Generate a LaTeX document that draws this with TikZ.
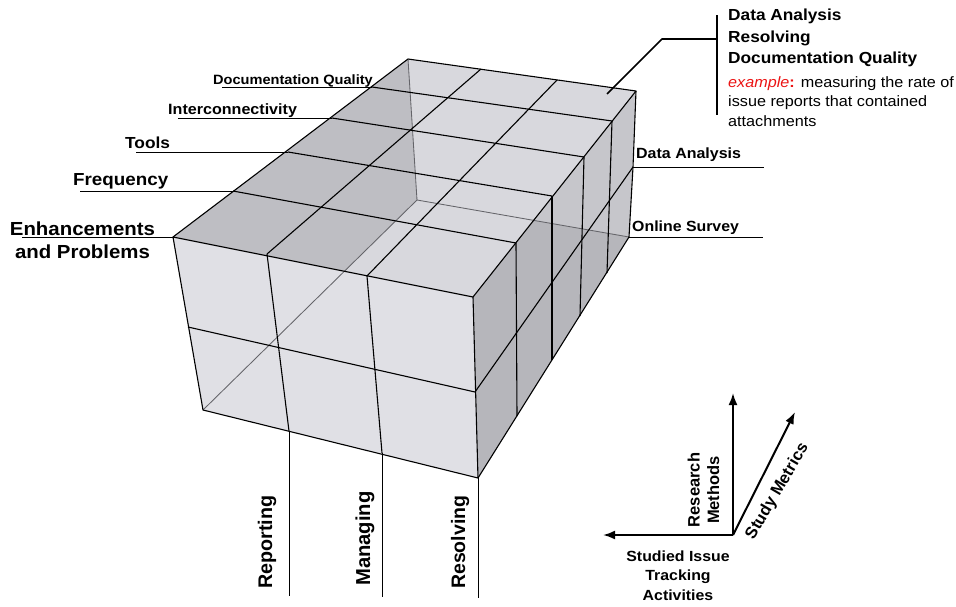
\documentclass[tikz,border=0pt]{standalone}
\usepackage{fontspec}
\setmainfont{Liberation Sans}[FakeStretch=1.08]
\newfontfamily\rotfont{Liberation Sans}
\usetikzlibrary{arrows.meta}

\definecolor{frontc}{RGB}{224,224,229}
\definecolor{topc}{RGB}{216,216,221}
\definecolor{topdark}{RGB}{190,190,195}
\definecolor{sidec}{RGB}{182,182,187}
\definecolor{sidelight}{RGB}{198,198,203}
\definecolor{hidc}{RGB}{100,100,105}
\definecolor{exred}{RGB}{235,20,20}

\newcommand\fsz[1]{\fontsize{#1}{#1}\selectfont}

\begin{document}
\begin{tikzpicture}[x=1pt,y=-1pt,
  edge/.style={black, line width=1.1pt, line join=round},
  hidden/.style={hidc, line width=0.85pt},
  leader/.style={black, line width=1pt},
  lbl/.style={inner sep=0pt, font=\bfseries},
  txt/.style={inner sep=0pt},
  axis/.style={black, line width=2pt, -{Latex[length=12pt,width=9pt]}}]

\useasboundingbox (0,0) rectangle (956,606);

% box corners
\coordinate (FLT) at (173,237);
\coordinate (FRT) at (473,297);
\coordinate (FRB) at (478,478);
\coordinate (FLB) at (203,410);
\coordinate (BLT) at (408,59);
\coordinate (BRT) at (636,91);
\coordinate (BRB) at (629,237);
\coordinate (BLB) at (417,200);
\coordinate (BRM) at (633,167);
\coordinate (FRM) at (475,392);
\coordinate (FLM) at (188,327);

% front face column points
\coordinate (FT1) at (267,254);
\coordinate (FT2) at (367,276);
\coordinate (FB1) at (289,431);
\coordinate (FB2) at (382,453);

% top face row points (left edge / right edge)
\coordinate (L1) at (233,191);
\coordinate (L2) at (288,152);
\coordinate (L3) at (332,118);
\coordinate (L4) at (372,87);
\coordinate (R1) at (516,243);
\coordinate (R2) at (552,196);
\coordinate (R3) at (584,157);
\coordinate (R4) at (612,121);
\coordinate (BT1) at (481,69);
\coordinate (BT2) at (557,80);

% right face bottom points
\coordinate (S1) at (517,416);
\coordinate (S2) at (552,360);
\coordinate (S3) at (580,316);
\coordinate (S4) at (607,273);

% ---- face fills ----
\fill[topc] (FLT) -- (FRT) -- (BRT) -- (BLT) -- cycle;
\begin{scope}
  \clip (FLT) -- (FRT) -- (BRT) -- (BLT) -- cycle;
  \fill[topdark] (FLT) -- (BLT) -- (BLB) -- (FLB) -- cycle;
\end{scope}
\fill[frontc] (FLT) -- (FRT) -- (FRB) -- (FLB) -- cycle;
\fill[sidec] (FRT) -- (BRT) -- (BRB) -- (FRB) -- cycle;
\begin{scope}
  \clip (FRT) -- (BRT) -- (BRB) -- (FRB) -- cycle;
  \fill[sidelight] (BLT) -- (BRT) -- (BRB) -- (BLB) -- cycle;
\end{scope}

% ---- hidden edges ----
\draw[hidden] (BLT) -- (BLB) -- (BRB);
\draw[hidden] (BLB) -- (FLB);

% ---- visible edges and grid ----
% front face
\draw[edge] (FLT) -- (FRT) -- (FRB) -- (FLB) -- cycle;
\draw[edge] (FT1) -- (FB1);
\draw[edge] (FT2) -- (FB2);
\draw[edge] (FLM) -- (FRM);
% top face
\draw[edge] (FLT) -- (BLT) -- (BRT) -- (FRT);
\draw[edge] (L1) -- (R1);
\draw[edge] (L2) -- (R2);
\draw[edge] (L3) -- (R3);
\draw[edge] (L4) -- (R4);
\draw[edge] (FT1) -- (BT1);
\draw[edge] (FT2) -- (BT2);
% right face
\draw[edge] (BRT) -- (BRM) -- (BRB) -- (FRB);
\draw[edge] (R1) -- (S1);
\draw[edge] (R2) -- (S2);
\draw[edge] (R3) -- (S3);
\draw[edge] (R4) -- (S4);
\draw[edge] (FRM) -- (BRM);

% ---- metric labels (left) ----
\coordinate (dqL) at (222,87);
\coordinate (icL) at (178,118);
\coordinate (toL) at (136,152);
\coordinate (frL) at (80,191);
\coordinate (enL) at (22,237);
\draw[leader] (L4) -- (dqL);
\draw[leader] (L3) -- (icL);
\draw[leader] (L2) -- (toL);
\draw[leader] (L1) -- (frL);
\draw[leader] (FLT) -- (enL);
\node[lbl, anchor=base west, font=\bfseries\fsz{13.5}] (dq) at (213,84) {Documentation Quality};
\node[lbl, anchor=base west, font=\bfseries\fsz{14.9}] (ic) at (168,114) {Interconnectivity};
\node[lbl, anchor=base west, font=\bfseries\fsz{16}] (to) at (125,148) {Tools};
\node[lbl, anchor=base west, font=\bfseries\fsz{17.4}] (fr) at (73,185.5) {Frequency};
\node[lbl, anchor=base, font=\bfseries\fsz{18.9}] (en1) at (82.5,235) {Enhancements};
\node[lbl, anchor=base, font=\bfseries\fsz{18.9}] (en2) at (82.5,258) {and Problems};

% ---- research method labels (right) ----
\coordinate (daR) at (764,167);
\coordinate (osR) at (763,237);
\draw[leader] (BRM) -- (daR);
\draw[leader] (BRB) -- (osR);
\node[lbl, anchor=base west, font=\bfseries\fsz{14.8}] (da) at (636,158) {Data Analysis};
\node[lbl, anchor=base west, font=\bfseries\fsz{14.7}] (os) at (632,231.5) {Online Survey};

% ---- activity labels (bottom) ----
\coordinate (rpB) at (289,596);
\coordinate (mgB) at (382,597);
\coordinate (rsB) at (478,598);
\draw[leader] (FB1) -- (rpB);
\draw[leader] (FB2) -- (mgB);
\draw[leader] (FRB) -- (rsB);
\node[lbl, rotate=90, anchor=base west, font=\rotfont\bfseries\fsz{19.7}] (rp) at (272,589) {Reporting};
\node[lbl, rotate=90, anchor=base west, font=\rotfont\bfseries\fsz{20.2}] (mg) at (370,586) {Managing};
\node[lbl, rotate=90, anchor=base west, font=\rotfont\bfseries\fsz{19.5}] (rs) at (465,589) {Resolving};

% ---- callout for one cell ----
\coordinate (cs) at (607,94);
\coordinate (ck) at (662,39);
\coordinate (cb) at (717,39);
\coordinate (barT) at (717,15);
\coordinate (barB) at (717,115);
\draw[black, line width=1.6pt, line join=round] (cs) -- (ck) -- (cb);
\draw[black, line width=2.4pt] (barT) -- (barB);
\node[lbl, anchor=base west, font=\bfseries\fsz{16}] (c1) at (728,20.7) {Data Analysis};
\node[lbl, anchor=base west, font=\bfseries\fsz{16}] (c2) at (728,42.7) {Resolving};
\node[lbl, anchor=base west, font=\bfseries\fsz{16}] (c3) at (728,63.3) {Documentation Quality};
\node[txt, anchor=base west, font=\fsz{15}] (c4) at (728,87.3)
  {\textcolor{exred}{\textit{example}\textbf{:}} measuring the rate of};
\node[txt, anchor=base west, font=\fsz{15}] (c5) at (728,106.7) {issue reports that contained};
\node[txt, anchor=base west, font=\fsz{15}] (c6) at (728,126) {attachments};

% ---- axes legend ----
\coordinate (O) at (733,535);
\coordinate (axUp) at (733,393);
\coordinate (axLeft) at (603,535);
\coordinate (axDiag) at (795,412);
\draw[axis] (O) -- (axUp);
\draw[axis] (O) -- (axLeft);
\draw[axis] (O) -- (axDiag);
\node[lbl, rotate=90, align=center, font=\rotfont\bfseries\fsz{16.5}] (rm) at (703.5,490) {Research\\[3pt]Methods};
\node[lbl, rotate=59.5, font=\rotfont\bfseries\fsz{16.5}] (sm) at (777.5,491.5) {Study Metrics};
\node[lbl, anchor=base, font=\bfseries\fsz{14.7}] (a1) at (678,561) {Studied Issue};
\node[lbl, anchor=base, font=\bfseries\fsz{14.7}] (a2) at (678,580) {Tracking};
\node[lbl, anchor=base, font=\bfseries\fsz{14.7}] (a3) at (678,600) {Activities};

\end{tikzpicture}
\end{document}
